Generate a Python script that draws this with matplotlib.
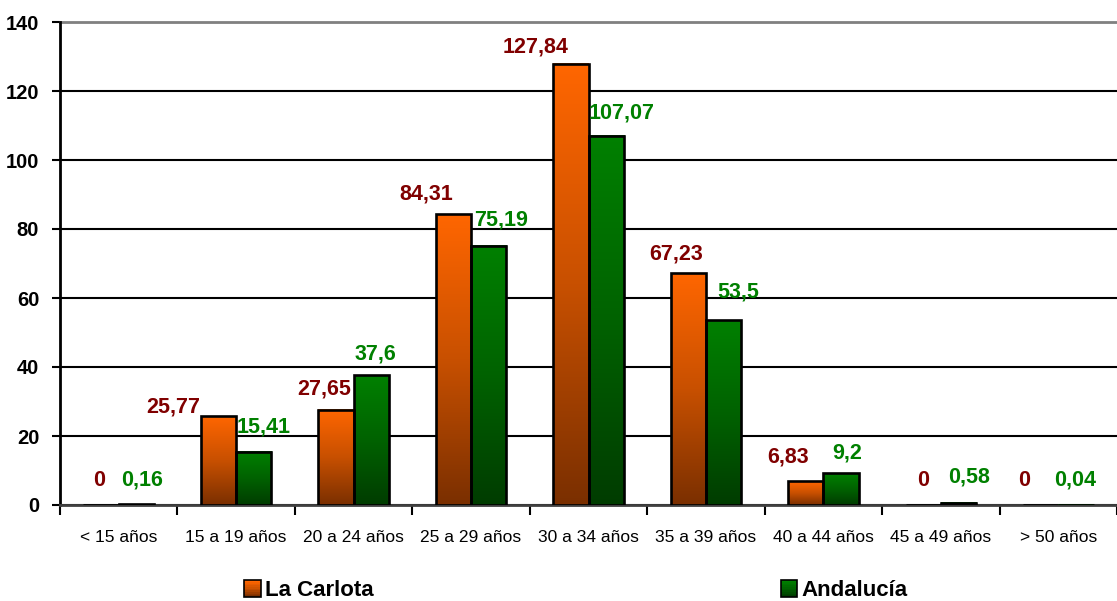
import numpy as np
import matplotlib
matplotlib.use("Agg")
import matplotlib.pyplot as plt
from matplotlib.colors import LinearSegmentedColormap
from matplotlib.patches import Rectangle
from matplotlib.legend_handler import HandlerBase

categorias = ["< 15 años", "15 a 19 años", "20 a 24 años", "25 a 29 años", "30 a 34 años",
              "35 a 39 años", "40 a 44 años", "45 a 49 años", "> 50 años"]
la_carlota = [0, 25.77, 27.65, 84.31, 127.84, 67.23, 6.83, 0, 0]
andalucia = [0.16, 15.41, 37.6, 75.19, 107.07, 53.5, 9.2, 0.58, 0.04]
etiq_carlota = ["0", "25,77", "27,65", "84,31", "127,84", "67,23", "6,83", "0", "0"]
etiq_andalucia = ["0,16", "15,41", "37,6", "75,19", "107,07", "53,5", "9,2", "0,58", "0,04"]

# desplazamiento (px) de cada etiqueta respecto al centro superior de su barra
off_carlota = [(-2, 25), (-45, 9), (-12, 21), (-27, 20), (-35, 17), (-12, 19), (-18, 24), (0, 25), (-17, 24)]
off_andalucia = [(6, 24), (10, 25), (4, 21), (12, 26), (16, 23), (15, 28), (6, 20), (11, 26), (-1, 25)]

plt.rcParams["font.family"] = ["Liberation Sans", "DejaVu Sans"]

naranja = LinearSegmentedColormap.from_list("naranja", ["#7a2f00", "#c85000", "#ff6600"])
verde = LinearSegmentedColormap.from_list("verde", ["#003c00", "#006200", "#008000"])
rojo_txt = "#800000"
verde_txt = "#008000"

fig = plt.figure(figsize=(11.17, 6.01), dpi=100)
ax = fig.add_axes([60 / 1117, 96 / 601, 1 - 60 / 1117, 483 / 601])

x = np.arange(len(categorias))
w = 0.3
b1 = ax.bar(x - w / 2, la_carlota, w, facecolor="none", edgecolor="black", linewidth=1.9, zorder=4)
b2 = ax.bar(x + w / 2, andalucia, w, facecolor="none", edgecolor="black", linewidth=1.9, zorder=4)

grad = np.linspace(0, 1, 256).reshape(-1, 1)
for barras, cmap in ((b1, naranja), (b2, verde)):
    for p in barras:
        h = p.get_height()
        if h <= 0:
            continue
        ax.imshow(grad, cmap=cmap, origin="lower", aspect="auto", zorder=3,
                  extent=[p.get_x(), p.get_x() + p.get_width(), 0, h])

for barras, textos, offs, col in ((b1, etiq_carlota, off_carlota, rojo_txt),
                                   (b2, etiq_andalucia, off_andalucia, verde_txt)):
    for p, t, (dx, dy) in zip(barras, textos, offs):
        ax.annotate(t, (p.get_x() + p.get_width() / 2, p.get_height()),
                    xytext=(dx, dy), textcoords="offset pixels",
                    ha="center", va="center", fontsize=15.5, fontweight="bold", color=col, zorder=5)

ax.set_xlim(-0.5, -0.5 + 1057 / 118.7)
ax.set_ylim(0, 140)
ax.set_yticks(range(0, 141, 20))
ax.yaxis.grid(True, color="black", linewidth=1.5)
ax.set_axisbelow(True)
ax.tick_params(axis="y", length=6, width=1.5, pad=9, labelsize=14.5, direction="out")
for lab in ax.get_yticklabels():
    lab.set_fontweight("bold")

# ticks en los límites de cada grupo, etiquetas en el centro
ax.set_xticks(np.arange(-0.5, len(categorias), 1))
ax.set_xticklabels([])
ax.set_xticks(x, minor=True)
ax.set_xticklabels(categorias, minor=True)
ax.tick_params(axis="x", which="major", length=7, width=1.5, direction="out")
ax.tick_params(axis="x", which="minor", length=0, pad=18, labelsize=12.5)

for s in ("top", "right"):
    ax.spines[s].set_visible(False)
ax.spines["left"].set_linewidth(2)
ax.spines["bottom"].set_linewidth(2)
ax.spines["bottom"].set_color("#404040")
ax.axhline(140, color="#808080", linewidth=2, zorder=1, clip_on=False)


class Degradado(HandlerBase):
    def __init__(self, cmap):
        super().__init__()
        self.cmap = cmap

    def create_artists(self, legend, orig_handle, xdescent, ydescent, width, height, fontsize, trans):
        lado = height * 1.25
        x0, y0 = -xdescent, -ydescent - (lado - height) / 2
        n = 10
        arts = []
        for k in range(n):
            arts.append(Rectangle((x0, y0 + lado * k / n), lado, lado / n + 0.3,
                                  facecolor=self.cmap(k / (n - 1)), edgecolor="none", transform=trans))
        arts.append(Rectangle((x0, y0), lado, lado, facecolor="none", edgecolor="black",
                              linewidth=1.2, transform=trans))
        return arts


leg = fig.legend([b1, b2], ["La Carlota", "Andalucía"], ncol=2, frameon=False,
                 loc="center", bbox_to_anchor=(576 / 1117, 1 - 591 / 601),
                 handler_map={b1: Degradado(naranja), b2: Degradado(verde)},
                 prop={"weight": "bold", "size": 16}, handlelength=0.7, handleheight=0.55,
                 handletextpad=0.25, columnspacing=18.3)

fig.savefig("out.png", dpi=100)
